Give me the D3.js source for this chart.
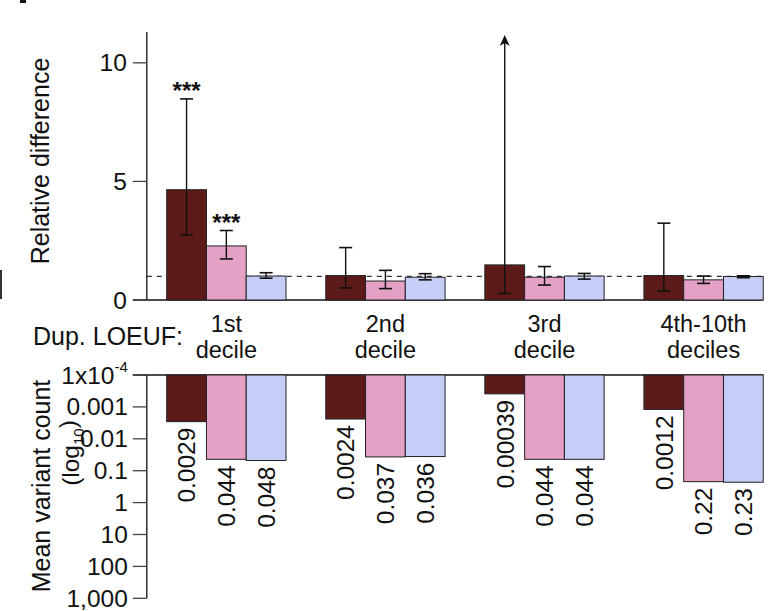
<!DOCTYPE html>
<html><head><meta charset="utf-8">
<script src="https://cdn.jsdelivr.net/npm/d3@7"></script>
<style>
html,body{margin:0;padding:0;background:#fff;}
svg{display:block;font-family:"Liberation Sans",Arial,Helvetica,sans-serif;}
</style></head>
<body>
<script>
// ---- data ----
const groups = ["1st decile", "2nd decile", "3rd decile", "4th-10th deciles"];
const groupLines = [["1st", "decile"], ["2nd", "decile"], ["3rd", "decile"], ["4th-10th", "deciles"]];
const series = ["a", "b", "c"];
const colors = ["#5C1B19", "#E5A0C6", "#C6CDF6"];
const relDiff = [[4.65, 2.28, 1.01], [1.03, 0.80, 0.96], [1.48, 0.96, 1.01], [1.03, 0.85, 0.99]];
const errLow  = [[2.75, 1.73, 0.92], [0.51, 0.48, 0.85], [0.28, 0.63, 0.88], [0.38, 0.70, 0.94]];
const errHigh = [[8.48, 2.93, 1.15], [2.21, 1.25, 1.11], [null, 1.41, 1.12], [3.24, 1.01, 1.02]]; // null = off scale (arrow)
const sig = [["***", "***", ""], ["", "", ""], ["", "", ""], ["", "", ""]];
const meanCount = [[0.0029, 0.044, 0.048], [0.0024, 0.037, 0.036], [0.00039, 0.044, 0.044], [0.0012, 0.22, 0.23]];
const topTicks = [0, 5, 10];
const logTicks = [1e-4, 1e-3, 1e-2, 1e-1, 1, 10, 100, 1000];
const logTickLabels = [null, "0.001", "0.01", "0.1", "1", "10", "100", "1,000"];

// ---- layout ----
const W = 784, H = 611;
const axisX = 146.8, barW = 39.77;
const svg = d3.select("body").append("svg").attr("width", W).attr("height", H);

const x0 = d3.scaleBand().domain(groups).range([axisX, axisX + 16 * barW]).paddingInner(0.25).paddingOuter(0.125);
const x1 = d3.scaleBand().domain(series).range([0, x0.bandwidth()]);
const yTop = d3.scaleLinear().domain([0, 11.3]).range([300, 32]);
const yBot = d3.scaleLog().domain([1e-4, 1000]).range([375, 598.3]);
const rightEnd = x0(groups[3]) + x0.bandwidth();
const FS = 24.5;
const ink = "#111";

// stray marks from adjacent panels
svg.append("rect").attr("x", 20).attr("y", 0).attr("width", 6).attr("height", 3).attr("fill", "#111");
svg.append("line").attr("x1", 1).attr("x2", 1).attr("y1", 270).attr("y2", 299).attr("stroke", "#333").attr("stroke-width", 2);

// ---- top chart ----
const gTop = svg.append("g");
gTop.append("line").attr("x1", axisX).attr("x2", axisX).attr("y1", yTop(11.3)).attr("y2", yTop(0)).attr("stroke", ink).attr("stroke-width", 1.3);
gTop.append("line").attr("x1", axisX - 14).attr("x2", rightEnd).attr("y1", yTop(0)).attr("y2", yTop(0)).attr("stroke", ink).attr("stroke-width", 1.3);
topTicks.forEach(t => {
  gTop.append("line").attr("x1", axisX - 14).attr("x2", axisX).attr("y1", yTop(t)).attr("y2", yTop(t)).attr("stroke", "#444").attr("stroke-width", 1.3);
  gTop.append("text").attr("x", axisX - 20).attr("y", yTop(t)).attr("dy", "0.35em").attr("text-anchor", "end")
    .attr("font-size", FS).attr("fill", ink).text(t);
});
gTop.append("text").attr("transform", `translate(49,161) rotate(-90)`).attr("text-anchor", "middle")
  .attr("font-size", FS + 0.5).attr("fill", ink).text("Relative difference");

gTop.append("line").attr("x1", axisX).attr("x2", rightEnd).attr("y1", yTop(1)).attr("y2", yTop(1))
  .attr("stroke", "#333").attr("stroke-width", 1.2).attr("stroke-dasharray", "5,5");

groups.forEach((g, gi) => {
  series.forEach((s, si) => {
    const bx = x0(g) + x1(s), cx = bx + x1.bandwidth() / 2;
    const v = relDiff[gi][si];
    gTop.append("rect").attr("x", bx).attr("y", yTop(v)).attr("width", x1.bandwidth()).attr("height", yTop(0) - yTop(v))
      .attr("fill", colors[si]).attr("stroke", "#222").attr("stroke-width", 1);
    const lo = errLow[gi][si], hi = errHigh[gi][si];
    const yHi = hi === null ? 40 : yTop(hi);
    gTop.append("line").attr("x1", cx).attr("x2", cx).attr("y1", yTop(lo)).attr("y2", yHi).attr("stroke", ink).attr("stroke-width", 1.4);
    gTop.append("line").attr("x1", cx - 6.5).attr("x2", cx + 6.5).attr("y1", yTop(lo)).attr("y2", yTop(lo)).attr("stroke", ink).attr("stroke-width", 1.6);
    if (hi === null) {
      const tip = 35;
      gTop.append("path").attr("d", `M${cx},${tip} L${cx - 5},${tip + 11} L${cx},${tip + 8} L${cx + 5},${tip + 11} Z`).attr("fill", ink);
    } else {
      gTop.append("line").attr("x1", cx - 6.5).attr("x2", cx + 6.5).attr("y1", yHi).attr("y2", yHi).attr("stroke", ink).attr("stroke-width", 1.6);
    }
    if (sig[gi][si]) {
      gTop.append("text").attr("x", cx).attr("y", yHi + 0.5).attr("text-anchor", "middle").attr("font-weight", "bold")
        .attr("font-size", 24).attr("fill", ink).text(sig[gi][si]);
    }
  });
});

// ---- category labels ----
svg.append("text").attr("x", 33).attr("y", 345).attr("font-size", FS + 0.5).attr("fill", ink).text("Dup. LOEUF:");
groups.forEach((g, gi) => {
  const cx = x0(g) + x0.bandwidth() / 2;
  groupLines[gi].forEach((ln, li) => {
    svg.append("text").attr("x", cx).attr("y", 332 + li * 26).attr("text-anchor", "middle")
      .attr("font-size", 23.5).attr("fill", ink).text(ln);
  });
});

// ---- bottom chart ----
const gBot = svg.append("g");
gBot.append("line").attr("x1", axisX).attr("x2", axisX).attr("y1", yBot(1e-4)).attr("y2", yBot(1000)).attr("stroke", ink).attr("stroke-width", 1.3);
gBot.append("line").attr("x1", axisX - 14).attr("x2", rightEnd).attr("y1", yBot(1e-4)).attr("y2", yBot(1e-4)).attr("stroke", ink).attr("stroke-width", 1.3);
logTicks.forEach((t, i) => {
  gBot.append("line").attr("x1", axisX - 14).attr("x2", axisX).attr("y1", yBot(t)).attr("y2", yBot(t)).attr("stroke", "#444").attr("stroke-width", 1.3);
  const tx = gBot.append("text").attr("x", axisX - 19).attr("y", yBot(t)).attr("dy", "0.35em").attr("text-anchor", "end")
    .attr("font-size", FS).attr("fill", ink);
  if (logTickLabels[i] === null) {
    tx.append("tspan").text("1x10");
    tx.append("tspan").attr("font-size", 15).attr("dy", "-0.75em").text("-4");
  } else {
    tx.text(logTickLabels[i]);
  }
});
gBot.append("text").attr("transform", `translate(50,486) rotate(-90)`).attr("text-anchor", "middle")
  .attr("font-size", FS + 0.5).attr("fill", ink).text("Mean variant count");
const lg = gBot.append("text").attr("transform", `translate(79,453) rotate(-90)`).attr("text-anchor", "middle")
  .attr("font-size", FS).attr("fill", ink);
lg.append("tspan").text("(log");
lg.append("tspan").attr("font-size", 15).attr("dy", "0.3em").text("10");
lg.append("tspan").attr("dy", "-0.3em").text(")");

groups.forEach((g, gi) => {
  series.forEach((s, si) => {
    const bx = x0(g) + x1(s), cx = bx + x1.bandwidth() / 2;
    const v = meanCount[gi][si];
    gBot.append("rect").attr("x", bx).attr("y", yBot(1e-4)).attr("width", x1.bandwidth()).attr("height", yBot(v) - yBot(1e-4))
      .attr("fill", colors[si]).attr("stroke", "#222").attr("stroke-width", 1);
    gBot.append("text").attr("transform", `translate(${cx},${yBot(v) + 6}) rotate(-90)`).attr("text-anchor", "end")
      .attr("dy", "0.36em").attr("font-size", FS).attr("fill", ink).text(String(v));
  });
});
</script>
</body></html>
